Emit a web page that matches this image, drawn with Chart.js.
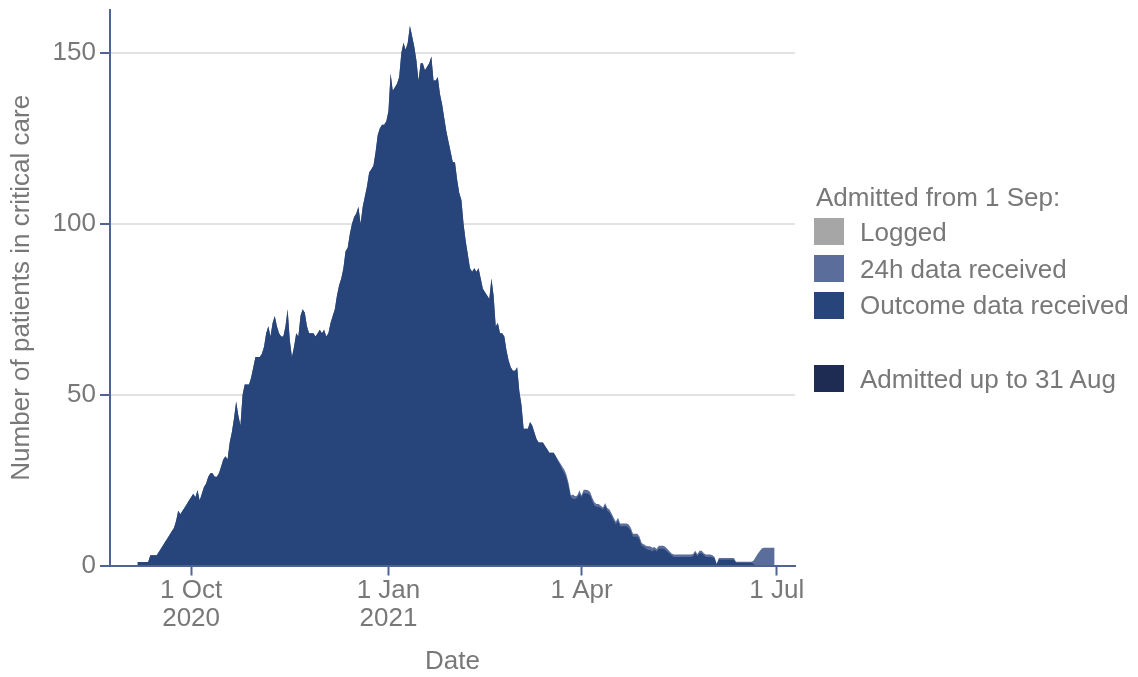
<!DOCTYPE html>
<html>
<head>
<meta charset="utf-8">
<script src="https://cdn.jsdelivr.net/npm/chart.js@4.4.1/dist/chart.umd.min.js"></script>
<style>
  html, body { margin: 0; padding: 0; background: #ffffff; }
  #wrap { position: relative; width: 1138px; height: 677px; overflow: hidden;
          font-family: 'Liberation Sans', Arial, Helvetica, sans-serif; color: #787878; }
  #c { position: absolute; left: 0; top: 0; }
  .lg-title { position: absolute; left: 816px; top: 182px; font-size: 26px; line-height: 30px; white-space: nowrap; }
  .sw { position: absolute; left: 814px; width: 30px; height: 27px; }
  .lg-text { position: absolute; left: 860px; font-size: 26px; line-height: 30px; white-space: nowrap; }
</style>
</head>
<body>
<div id="wrap">
  <canvas id="c" width="1138" height="677"></canvas>
  <div class="lg-title">Admitted from 1 Sep:</div>
  <div class="sw" style="top:218px;background:#a6a6a6"></div>
  <div class="lg-text" style="top:217px">Logged</div>
  <div class="sw" style="top:255px;background:#5a6d9b"></div>
  <div class="lg-text" style="top:254px">24h data received</div>
  <div class="sw" style="top:292px;background:#27457a"></div>
  <div class="lg-text" style="top:290px">Outcome data received</div>
  <div class="sw" style="top:365px;background:#1e2c54"></div>
  <div class="lg-text" style="top:364px">Admitted up to 31 Aug</div>
</div>
<script>
// Day index 0 = 1 Sep 2020. First plotted day:
const startDay = 5;

// Days 5..200: outcome data and total coincide (no visible 24h band)
const sharedHead = [
  1,1,1,1,1,1,
  3,3,3,3,
  4,5,6,7,8,9,
  10,11,13,16,15,16,17,18,19,20,
  21,20,22,19,21,23,24,26,27,27,
  26,26,27,29,31,32,31,36,39,43,
  48,44,41,50,53,53,53,55,58,61,
  61,61,62,64,68,70,67,71,73,70,
  68,67,67,70,75,66,61,64,68,67,
  73,75,74,70,68,68,68,67,68,69,
  68,69,67,68,71,73,75,79,82,84,
  87,92,93,97,100,102,103,105,100,105,
  108,111,115,116,117,121,126,128,129,129,
  130,133,144,139,140,141,143,150,153,151,
  153,158,155,152,148,142,147,147,145,146,
  147,149,142,142,143,138,135,131,127,124,
  121,118,118,113,109,107,100,95,91,87,
  86,87,86,87,84,81,80,79,78,84,
  79,70,71,68,68,67,63,60,58,57,
  57,58,51,47,40,40,40,42,41,39,
  37,36,36,36,35,34,33,33,33,32
];

// Days 201..302: top of the "24h data received" band (total)
const totalTail = [
  31,30,29,28,26.5,24,20.5,20.8,20.3,20.5,
  22,20.5,22.2,22.2,22,21.5,19.8,18.5,18,18,
  17.5,17,18.3,16.8,16.4,15.2,14,12.8,14,12.3,
  12.3,12.3,12.3,12,11,9.3,9.3,9.3,8.5,6.6,
  6.2,5.8,5.6,5.6,5.2,5.4,4.8,5.8,5.8,5.8,
  5.5,4.8,4.2,3.5,3.2,3.2,3.2,3.2,3.2,3.2,
  3.2,3.2,3.2,3.4,4.3,3.3,4.3,4.3,3.6,3.2,
  3.2,3.2,3,2.5,0.5,2.2,2.2,2.2,2.2,2.2,
  2.2,2.2,2.2,1.1,1.1,1.1,1.1,1.1,1.1,1.1,
  1.1,1.3,2.3,3.3,4.2,5,5.2,5.2,5.2,5.2,
  5.2,5.2
];

// Days 201..302: outcome data received
const outcomeTail = [
  30.5,29.5,28,27,25.5,23,20,19.5,19.5,19.8,
  21,20,21.2,21.1,21,20.5,18.8,17.5,17.2,17.2,
  16.8,16.3,17.5,16,15.5,14.4,13,12,13,11.5,
  11.5,11.5,11.5,11,10,8.4,8.4,8.4,7.6,5.8,
  5.5,5,4.6,4.5,4.1,4.7,4.1,4.9,4.9,4.9,
  4.6,4,3.5,2.9,2.5,2.5,2.5,2.5,2.5,2.5,
  2.5,2.5,2.5,2.7,3.7,2.7,3.6,3.6,3,2.5,
  2.5,2.5,2.4,2,0.3,1.7,1.7,1.7,1.7,1.7,
  1.7,1.7,1.7,0.8,0.8,0.8,0.8,0.8,0.8,0.8,
  0.8,0.5,0,0,0,0,0,0,0,0,
  0,0
];

const xTickDays = [30, 122, 212, 303];
const xTickLabels = [["1 Oct", "2020"], ["1 Jan", "2021"], ["1 Apr"], ["1 Jul"]];
const yTickValues = [0, 50, 100, 150];

const outcomeSeries = sharedHead.concat(outcomeTail);
const totalSeries = sharedHead.concat(totalTail);
const toPoints = arr => arr.map((v, i) => ({ x: startDay + i, y: v }));

const axisColor = '#4f6394';
const textColor = '#787878';
const FONT = "'Liberation Sans', Arial, Helvetica, sans-serif";

new Chart(document.getElementById('c'), {
  type: 'line',
  data: {
    datasets: [
      { label: 'Outcome data received', data: toPoints(outcomeSeries),
        backgroundColor: '#27457a', borderColor: 'rgba(0,0,0,0)', borderWidth: 0,
        fill: 'origin', pointRadius: 0, tension: 0 },
      { label: '24h data received', data: toPoints(totalSeries),
        backgroundColor: '#5a6d9b', borderColor: 'rgba(0,0,0,0)', borderWidth: 0,
        fill: 'origin', pointRadius: 0, tension: 0 }
    ]
  },
  options: {
    responsive: false,
    animation: false,
    events: [],
    layout: { padding: { top: 10, right: 343, left: 0, bottom: 0 } },
    plugins: { legend: { display: false }, tooltip: { enabled: false } },
    scales: {
      x: {
        type: 'linear',
        min: -7.8, max: 311.5,
        afterBuildTicks: s => { s.ticks = xTickDays.map(v => ({ value: v })); },
        afterFit: s => { s.height = 111.5; s.paddingLeft = 0; s.paddingRight = 0; },
        ticks: {
          autoSkip: false, maxRotation: 0, padding: 2,
          color: textColor, font: { family: FONT, size: 26, lineHeight: 1.05 },
          callback: (v, i) => xTickLabels[i]
        },
        grid: { drawOnChartArea: false, drawTicks: true, tickLength: 10,
                tickColor: axisColor, tickWidth: 2 },
        border: { display: true, color: axisColor, width: 2 },
        title: { display: true, text: 'Date', color: textColor,
                 font: { family: FONT, size: 26, lineHeight: 1.2 }, padding: { bottom: 0 } }
      },
      y: {
        min: 0, max: 162.6,
        afterBuildTicks: s => { s.ticks = yTickValues.map(v => ({ value: v })); },
        afterFit: s => { s.width = 110; s.paddingTop = 0; s.paddingBottom = 0; },
        ticks: { padding: 4, color: textColor, font: { family: FONT, size: 26 } },
        grid: {
          drawTicks: true, tickLength: 10, tickColor: axisColor, tickWidth: 2,
          lineWidth: 2,
          color: ctx => (ctx.tick && ctx.tick.value === 0) ? 'rgba(0,0,0,0)' : '#e2e2e2'
        },
        border: { display: true, color: axisColor, width: 2 },
        title: { display: true, text: 'Number of patients in critical care', color: textColor,
                 font: { family: FONT, size: 26, lineHeight: 1.2 }, padding: { top: 6 } }
      }
    }
  }
});
</script>
</body>
</html>
